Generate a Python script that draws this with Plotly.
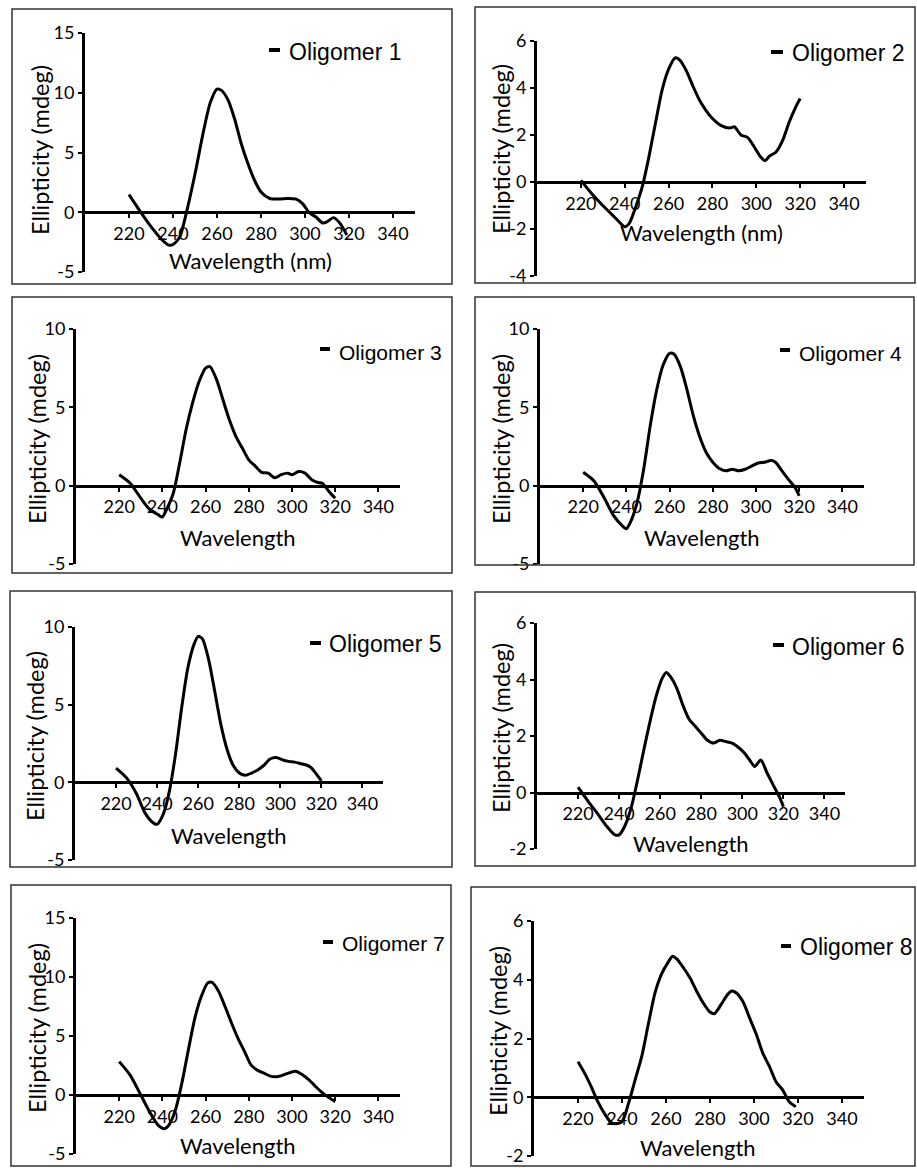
import plotly.graph_objects as go

W, H = 917, 1168

# ---------------- data ----------------
wl1 = [220, 225, 230, 235, 238, 240, 243, 246, 250, 254, 257, 260, 262, 265, 268, 271, 274, 277, 280, 284, 288, 292, 296, 299, 302, 305, 308, 310, 313, 316, 319]
cd1 = [1.48, 0.1, -1.2, -2.3, -2.75, -2.7, -2.1, -0.1, 3.2, 6.9, 9.2, 10.3, 10.2, 9.4, 7.8, 5.75, 4.1, 2.7, 1.7, 1.15, 1.1, 1.15, 1.1, 0.7, -0.05, -0.4, -0.9, -0.8, -0.45, -0.95, -1.9]

wl2 = [220, 225, 230, 235, 240, 242, 245, 248, 251, 254, 257, 260, 263, 265, 268, 271, 274, 277, 280, 284, 288, 290, 293, 296, 299, 302, 304, 306, 309, 312, 315, 318, 320]
cd2 = [0.07, -0.5, -1.0, -1.46, -1.9, -1.77, -1.06, -0.2, 1.06, 2.5, 3.9, 4.8, 5.28, 5.2, 4.75, 4.1, 3.5, 3.05, 2.7, 2.4, 2.3, 2.35, 2.0, 1.9, 1.5, 1.06, 0.9, 1.1, 1.28, 1.77, 2.55, 3.2, 3.55]

wl3 = [220, 225, 230, 234, 238, 240, 242, 245, 248, 251, 254, 257, 260, 262, 265, 268, 271, 274, 277, 280, 283, 286, 289, 292, 295, 298, 300, 303, 306, 309, 312, 314, 317, 320]
cd3 = [0.7, 0.17, -0.8, -1.5, -1.85, -2.0, -1.5, -0.5, 1.45, 3.6, 5.3, 6.65, 7.5, 7.6, 6.8, 5.5, 4.2, 3.15, 2.4, 1.65, 1.25, 0.85, 0.8, 0.5, 0.7, 0.8, 0.7, 0.9, 0.8, 0.4, 0.2, 0.15, -0.35, -0.8]

wl4 = [220, 225, 230, 234, 238, 240, 242, 245, 248, 251, 254, 257, 260, 262, 265, 268, 271, 274, 277, 280, 283, 286, 289, 292, 295, 298, 301, 304, 307, 309, 312, 315, 318, 320]
cd4 = [0.85, 0.3, -0.85, -1.9, -2.55, -2.75, -2.3, -1.05, 1.05, 3.8, 6.1, 7.7, 8.45, 8.4, 7.6, 6.15, 4.45, 3.1, 2.1, 1.5, 1.1, 0.95, 1.05, 0.95, 1.05, 1.25, 1.45, 1.5, 1.6, 1.5, 0.95, 0.4, -0.1, -0.65]

wl5 = [220, 225, 230, 234, 238, 240, 243, 246, 249, 252, 255, 258, 260, 262, 265, 268, 271, 274, 277, 280, 283, 286, 289, 292, 295, 298, 301, 304, 307, 310, 313, 315, 318, 320]
cd5 = [0.92, 0.3, -0.75, -1.95, -2.6, -2.7, -2.05, -0.55, 1.85, 4.85, 7.4, 8.9, 9.4, 9.25, 7.95, 5.9, 3.75, 2.15, 1.1, 0.6, 0.45, 0.6, 0.8, 1.1, 1.5, 1.6, 1.45, 1.35, 1.3, 1.2, 1.1, 0.95, 0.45, 0.1]

wl6 = [220, 225, 230, 234, 238, 240, 243, 246, 249, 252, 255, 258, 261, 263, 265, 268, 271, 274, 277, 280, 283, 286, 289, 292, 295, 298, 301, 304, 306, 309, 312, 315, 318, 320]
cd6 = [0.19, -0.32, -0.8, -1.2, -1.5, -1.5, -1.15, -0.5, 0.45, 1.5, 2.5, 3.4, 4.05, 4.25, 4.1, 3.7, 3.1, 2.6, 2.35, 2.1, 1.85, 1.75, 1.85, 1.8, 1.75, 1.6, 1.4, 1.1, 0.92, 1.15, 0.7, 0.27, -0.15, -0.5]

wl7 = [220, 225, 230, 234, 238, 241, 243, 246, 249, 252, 255, 258, 261, 263, 266, 269, 272, 275, 278, 281, 284, 287, 290, 293, 296, 299, 302, 305, 308, 311, 314, 317, 320]
cd7 = [2.83, 1.7, 0.0, -1.4, -2.55, -2.85, -2.55, -1.3, 1.0, 3.8, 6.5, 8.35, 9.5, 9.55, 8.8, 7.5, 6.1, 4.8, 3.7, 2.55, 2.1, 1.85, 1.6, 1.55, 1.7, 1.9, 2.0, 1.7, 1.27, 0.7, 0.2, -0.2, -0.57]

wl8 = [220, 223, 226, 229, 232, 235, 237, 240, 243, 246, 249, 252, 255, 258, 261, 263, 265, 268, 271, 274, 277, 280, 282, 285, 288, 290, 292, 295, 298, 301, 304, 307, 310, 313, 316, 319]
cd8 = [1.21, 0.82, 0.36, -0.15, -0.55, -0.86, -0.9, -0.83, -0.2, 0.6, 1.4, 2.5, 3.55, 4.2, 4.6, 4.8, 4.7, 4.4, 4.05, 3.6, 3.2, 2.9, 2.85, 3.15, 3.5, 3.62, 3.55, 3.25, 2.7, 2.15, 1.5, 1.05, 0.53, 0.25, -0.15, -0.32]

names = ["Oligomer 1", "Oligomer 2", "Oligomer 3", "Oligomer 4",
         "Oligomer 5", "Oligomer 6", "Oligomer 7", "Oligomer 8"]
x_title = ["Wavelength (nm)", "Wavelength (nm)", "Wavelength", "Wavelength",
           "Wavelength", "Wavelength", "Wavelength", "Wavelength"]
y_title = "Ellipticity (mdeg)"
x_ticks = [220, 240, 260, 280, 300, 320, 340]
y_ranges = [(-5, 15), (-4, 6), (-5, 10), (-5, 10), (-5, 10), (-2, 6), (-5, 15), (-2, 6)]
y_steps = [5, 2, 5, 5, 5, 2, 5, 2]
waves = [wl1, wl2, wl3, wl4, wl5, wl6, wl7, wl8]
signals = [cd1, cd2, cd3, cd4, cd5, cd6, cd7, cd8]

# ---------------- layout geometry (pixels) ----------------
plot_px = [(85, 415, 33, 272), (537, 866, 41, 276),
           (76, 400, 329, 564), (540, 864, 329, 564),
           (75, 383, 627, 860), (537, 845, 623, 849),
           (76, 400, 918, 1154), (534, 864, 921, 1156)]
box_px = [(12, 9, 452, 284), (475, 7, 915, 283),
          (12, 297, 452, 573), (475, 297, 914, 565),
          (10, 591, 452, 867), (475, 592, 915, 866),
          (11, 885, 451, 1166), (471, 887, 915, 1166)]
xt_px = [(250, 260), (701, 232), (238, 537), (702, 537),
         (229, 835), (691, 843), (238, 1145), (698, 1147)]
yt_px = [(40, 150), (501, 149), (37, 439), (501, 439),
         (35, 736), (501, 728), (37, 1028), (498, 1031)]
leg_px = [(269, 280, 50, 287, 52, 23), (771, 783, 52, 790, 53, 23),
          (320, 330, 349, 337, 352, 21), (780, 790, 350, 797, 353, 21),
          (310, 321, 643, 327, 644, 23), (773, 784, 645, 790, 647, 23),
          (323, 333, 942, 340, 943, 21), (781, 791, 946, 798, 947, 23)]

TICK_FONT = dict(family="Lato, Carlito, sans-serif", size=18, color="black")
XT_FONT = dict(family="Lato, Carlito, sans-serif", size=22, color="black")
YT_FONT = dict(family="Lato, Carlito, sans-serif", size=23.5, color="black")
LEG_FONT = "Liberation Sans, Arial, sans-serif"

fig = go.Figure()
layout = {}
shapes = []
annotations = []


def px(x):
    return x / W


def py(y):
    return 1 - y / H


for i in range(8):
    n = i + 1
    xa = "x" if n == 1 else f"x{n}"
    ya = "y" if n == 1 else f"y{n}"
    xkey = "xaxis" if n == 1 else f"xaxis{n}"
    ykey = "yaxis" if n == 1 else f"yaxis{n}"
    ax0, ax1, yt, yb = plot_px[i]
    ymin, ymax = y_ranges[i]
    y_zero_px = yt + (ymax - 0) / (ymax - ymin) * (yb - yt)
    yvals = list(range(ymin, ymax + 1, y_steps[i]))

    fig.add_trace(go.Scatter(
        x=waves[i], y=signals[i], mode="lines", name=names[i],
        line=dict(color="black", width=3, shape="spline", smoothing=0.7),
        xaxis=xa, yaxis=ya, showlegend=False))

    layout[xkey] = dict(
        domain=[px(ax0), px(ax1)], range=[200, 350], anchor="free",
        position=py(y_zero_px), tickvals=x_ticks,
        ticktext=[str(v) for v in x_ticks], ticks="outside", ticklen=4,
        tickwidth=2, tickcolor="black", showline=True, linecolor="black",
        linewidth=3, showgrid=False, zeroline=False, tickfont=TICK_FONT,
        automargin=False)
    layout[ykey] = dict(
        domain=[py(yb), py(yt)], range=[ymin, ymax], anchor=xa,
        tickvals=yvals, ticktext=[str(v) for v in yvals], ticks="outside",
        ticklen=4, tickwidth=2, tickcolor="black", showline=True,
        linecolor="black", linewidth=3, showgrid=False, zeroline=False,
        tickfont=TICK_FONT, ticklabelstandoff=0, automargin=False)

    bx0, by0, bx1, by1 = box_px[i]
    shapes.append(dict(type="rect", xref="paper", yref="paper",
                       x0=px(bx0), x1=px(bx1), y0=py(by1), y1=py(by0),
                       line=dict(color="#333333", width=1.5)))

    tx, ty = xt_px[i]
    annotations.append(dict(text=x_title[i], x=px(tx), y=py(ty), xref="paper",
                            yref="paper", showarrow=False, font=XT_FONT,
                            xanchor="center", yanchor="middle"))
    sx, sy = yt_px[i]
    annotations.append(dict(text=y_title, x=px(sx), y=py(sy), xref="paper",
                            yref="paper", showarrow=False, font=YT_FONT,
                            textangle=-90, xanchor="center", yanchor="middle"))

    d0, d1, dy, lx, ly, fs = leg_px[i]
    shapes.append(dict(type="line", xref="paper", yref="paper",
                       x0=px(d0), x1=px(d1), y0=py(dy), y1=py(dy),
                       line=dict(color="black", width=4)))
    annotations.append(dict(text=names[i], x=px(lx), y=py(ly), xref="paper",
                            yref="paper", showarrow=False,
                            font=dict(family=LEG_FONT, size=fs, color="black"),
                            xanchor="left", yanchor="middle"))

fig.update_layout(
    width=W, height=H, margin=dict(l=0, r=0, t=0, b=0, pad=0, autoexpand=False),
    paper_bgcolor="white", plot_bgcolor="rgba(0,0,0,0)",
    shapes=shapes, annotations=annotations, showlegend=False, **layout)

fig.write_html(
    "out.html",
    config={"displayModeBar": False},
    post_script=(
        "document.documentElement.style.margin='0';"
        "document.body.style.margin='0';"
        "document.body.style.padding='0';"
        "var gd=document.getElementById('{plot_id}');"
        "gd.style.position='fixed';gd.style.top='0px';gd.style.left='0px';"
    ),
)
